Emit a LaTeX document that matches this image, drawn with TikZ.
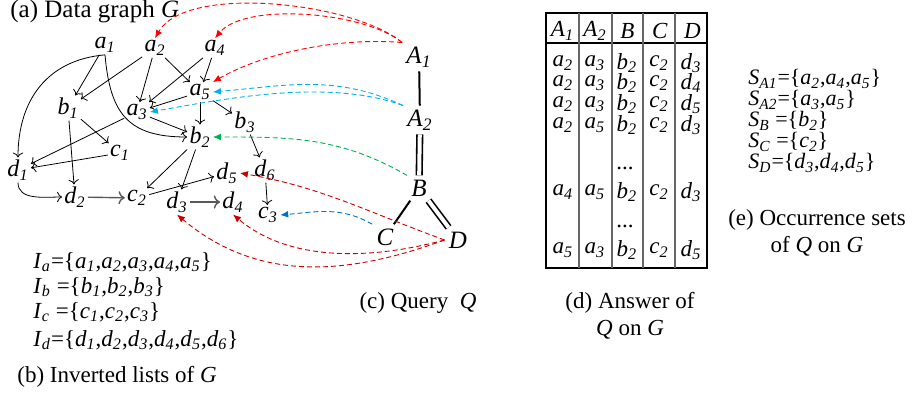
\documentclass[tikz,border=0pt]{standalone}
\usepackage{fontspec}
\setmainfont{Liberation Serif}
\usetikzlibrary{arrows.meta}
\definecolor{qred}{RGB}{255,0,0}
\definecolor{qdarkred}{RGB}{200,0,0}
\definecolor{qcyan}{RGB}{0,176,240}
\definecolor{qgreen}{RGB}{0,176,80}
\definecolor{qblue}{RGB}{0,112,192}
\newcommand{\vx}[2]{\textit{#1}\textsubscript{\textit{#2}}}

\begin{document}
\begin{tikzpicture}[x=0.5pt,y=0.5pt,font=\fontsize{11.5}{13.5}\selectfont]
\tikzstyle{vert}=[inner sep=1pt,font=\fontsize{12}{14}\selectfont]
\tikzstyle{qvert}=[inner sep=2pt,font=\fontsize{12.5}{14}\selectfont]
\tikzstyle{gedge}=[->,line width=0.4pt]
\tikzstyle{qedge}=[line width=1pt]
\tikzstyle{qdouble}=[double,double distance=2pt,line width=0.8pt]
\tikzstyle{occ}=[-{Latex[length=4pt,width=3.4pt]},dash pattern=on 2.5pt off 1.5pt,line width=0.45pt]
\tikzstyle{txt}=[anchor=west,inner sep=0pt]
\tikzstyle{stxt}=[anchor=west,inner sep=0pt,font=\fontsize{11}{13}\selectfont]
\useasboundingbox (0,0) rectangle (923,397);
\node[txt,font=\fontsize{12.5}{14}\selectfont] (capa) at (10,385) {(a) Data graph \textit{G}};
\node[vert] (a1) at (105,352) {\vx{a}{1}};
\node[vert] (a2) at (155,349) {\vx{a}{2}};
\node[vert] (a4) at (215,349) {\vx{a}{4}};
\node[vert] (a5) at (200,305) {\vx{a}{5}};
\node[vert] (b1) at (68,289) {\vx{b}{1}};
\node[vert] (a3) at (137,285) {\vx{a}{3}};
\node[vert] (b3) at (245,275) {\vx{b}{3}};
\node[vert] (b2) at (200,260) {\vx{b}{2}};
\node[vert] (c1) at (120,244) {\vx{c}{1}};
\node[vert] (d1) at (18,227) {\vx{d}{1}};
\node[vert] (d6) at (265,227) {\vx{d}{6}};
\node[vert] (d5) at (227,224) {\vx{d}{5}};
\node[vert] (d2) at (75,200) {\vx{d}{2}};
\node[vert] (c2) at (137,199) {\vx{c}{2}};
\node[vert] (d3) at (177,195) {\vx{d}{3}};
\node[vert] (d4) at (233,195) {\vx{d}{4}};
\node[vert] (c3) at (268,182) {\vx{c}{3}};
\draw[gedge] (a1.south) to[out=185,in=90,looseness=1.1] (d1.north);
\draw[gedge] (a1.south) to[out=-85,in=180,looseness=1.3] (b2.west);
\draw[gedge] (a1) -- (b1);
\draw[gedge] (a2) -- (b1);
\draw[gedge] (a2) -- (a3);
\draw[gedge] (a2) -- (a5);
\draw[gedge] (a4) -- (a3);
\draw[gedge] (a4) -- (a5);
\draw[gedge] (a5) -- (a3);
\draw[gedge] (a5) -- (b2);
\draw[gedge] (a5) -- (b3);
\draw[gedge] (a3) -- (b2);
\draw[gedge] (a3) -- (d1);
\draw[gedge] (b1) -- (c1);
\draw[gedge] (b1) -- (d2);
\draw[gedge] (c1) -- (d1);
\draw[gedge] (d1.south) to[out=-90,in=180] (d2.west);
\draw[gedge,black!65,line width=0.7pt] (d2) -- (c2);
\draw[gedge] (b2) -- (c2);
\draw[gedge] (b2) -- (d3);
\draw[gedge] (c2) -- (d5);
\draw[gedge,black!65,line width=0.7pt] (d3) -- (d4);
\draw[gedge] (b3) -- (d6);
\draw[gedge] (d6) -- (c3);
\node[qvert] (A1) at (419,340) {\vx{A}{1}};
\node[qvert] (A2) at (420,277) {\vx{A}{2}};
\node[qvert] (B) at (419,209) {\textit{B}};
\node[qvert] (C) at (385,160) {\textit{C}};
\node[qvert] (D) at (458,157) {\textit{D}};
\draw[qedge] (A1) -- (A2);
\draw[qdouble] (A2) -- (B);
\draw[qedge] (B) -- (C);
\draw[qdouble] (B) -- (D);
\draw[occ,qred] (A1.north west) to[out=140,in=60,looseness=0.65] (a2.north);
\draw[occ,qred] (A1.north west) to[out=140,in=50,looseness=0.65] (a4.north);
\draw[occ,qred] (A1.north west) to[out=175,in=30,looseness=0.8] (a5.north east);
\draw[occ,qcyan] (A2.north west) to[out=155,in=5] (a5.east);
\draw[occ,qcyan] (A2.north west) to[out=160,in=10,looseness=0.8] (a3.east);
\draw[occ,qgreen] (B.north west) to[out=150,in=0] (b2.east);
\draw[occ,qdarkred] (D.west) to[out=160,in=-10] (d5.east);
\draw[occ,qdarkred] (D.west) to[out=195,in=-40,looseness=0.9] (d4.south);
\draw[occ,qdarkred] (D.west) to[out=200,in=-40] (d3.south);
\draw[occ,qblue] (C.north west) to[out=150,in=5] (c3.east);
\node (capc) at (418,94) {(c) Query \ \textit{Q}};
\node[txt] (Ia) at (33,135) {\vx{I}{a}=\{\vx{a}{1},\vx{a}{2},\vx{a}{3},\vx{a}{4},\vx{a}{5}\}};
\node[txt] (Ib) at (33,110) {\vx{I}{b} =\{\vx{b}{1},\vx{b}{2},\vx{b}{3}\}};
\node[txt] (Ic) at (33,85) {\vx{I}{c} =\{\vx{c}{1},\vx{c}{2},\vx{c}{3}\}};
\node[txt] (Id) at (33,57) {\vx{I}{d}=\{\vx{d}{1},\vx{d}{2},\vx{d}{3},\vx{d}{4},\vx{d}{5},\vx{d}{6}\}};
\node[txt] (capb) at (17,20) {(b) Inverted lists of \textit{G}};
\draw[line width=0.6pt] (546,129) rectangle (707,384);
\draw[line width=0.6pt] (546,354) -- (707,354);
\foreach \x in {579,612,643,675}
  \draw[black!60,line width=0.6pt] (\x,129) -- (\x,384);
\foreach \h [count=\i] in {\vx{A}{1},\vx{A}{2},\textit{B},\textit{C},\textit{D}}
  \node (h\i) at (530+32.5*\i,366) {\h};
\foreach \r/\y/\p/\q/\s in {1/334/2/3/3,2/314/2/3/4,3/293/2/3/5,4/272/2/5/3,5/205/4/5/3,6/147/5/3/5} {
  \node (r\r c1) at (563,\y) {\vx{a}{\p}};
  \node (r\r c2) at (595,\y) {\vx{a}{\q}};
  \node (r\r c3) at (627,\y) {\vx{b}{2}};
  \node (r\r c4) at (659,\y) {\vx{c}{2}};
  \node (r\r c5) at (691,\y) {\vx{d}{\s}};
}
\node[anchor=base] (dots1) at (625,227) {...};
\node[anchor=base] (dots2) at (625,169) {...};
\node[align=center] (capd) at (630,81) {(d) Answer of\\\textit{Q} on \textit{G}};
\node[stxt] (SA1) at (748,318) {\vx{S}{A1}=\{\vx{a}{2},\vx{a}{4},\vx{a}{5}\}};
\node[stxt] (SA2) at (748,297) {\vx{S}{A2}=\{\vx{a}{3},\vx{a}{5}\}};
\node[stxt] (SB) at (748,276) {\vx{S}{B} =\{\vx{b}{2}\}};
\node[stxt] (SC) at (748,255) {\vx{S}{C} =\{\vx{c}{2}\}};
\node[stxt] (SD) at (748,234) {\vx{S}{D}=\{\vx{d}{3},\vx{d}{4},\vx{d}{5}\}};
\node[align=center] (cape) at (817,164) {(e) Occurrence sets\\of \textit{Q} on \textit{G}};
\end{tikzpicture}
\end{document}
